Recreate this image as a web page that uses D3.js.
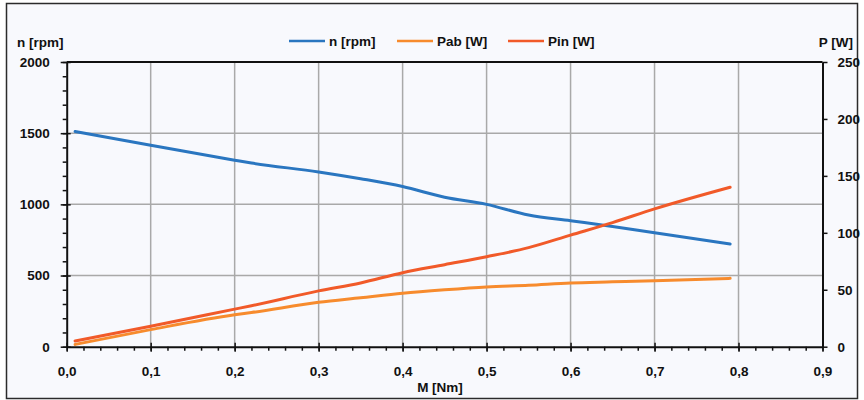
<!DOCTYPE html>
<html>
<head>
<meta charset="utf-8">
<script src="https://cdn.jsdelivr.net/npm/d3@7"></script>
<style>
  body { margin: 0; background: #fff; }
  text { font-family: "Liberation Sans", Arial, sans-serif; font-weight: bold; font-size: 13.5px; fill: #111; }
</style>
</head>
<body>
<svg id="chart" width="864" height="400"></svg>
<script>
// torque in Nm
const torque = [0.01, 0.1, 0.2, 0.22, 0.3, 0.35, 0.4, 0.45, 0.5, 0.55, 0.6, 0.65, 0.7, 0.79];
const speed = [1512, 1415, 1310, 1290, 1228, 1180, 1125, 1050, 1000, 925, 885, 845, 800, 722];
const powerOut = [2, 15, 28, 30, 39, 43, 47, 50, 52.5, 54, 56, 57, 58, 60];
const powerIn = [5, 18, 33, 36, 49, 56, 65, 72, 79, 87, 98, 109, 121, 140];

const xTicks = [0, 0.1, 0.2, 0.3, 0.4, 0.5, 0.6, 0.7, 0.8, 0.9];
const nTicks = [0, 500, 1000, 1500, 2000];
const pTicks = [0, 50, 100, 150, 200, 250];

const series = [
  { name: "n [rpm]", values: speed, axis: "n", color: "#2a76c0" },
  { name: "Pab [W]", values: powerOut, axis: "p", color: "#f78b2d" },
  { name: "Pin [W]", values: powerIn, axis: "p", color: "#f15a29" }
];

const svg = d3.select("#chart");
const plotL = 66.7, plotR = 822.5, plotT = 62, plotB = 346.7;

const x = d3.scaleLinear().domain([0, 0.9]).range([plotL, plotR]);
const yN = d3.scaleLinear().domain([0, 2000]).range([plotB, plotT]);
const yP = d3.scaleLinear().domain([0, 250]).range([plotB, plotT]);

// outer frame
svg.append("rect")
  .attr("x", 6.5).attr("y", 3.5).attr("width", 851).attr("height", 395)
  .attr("fill", "#f8f9fd").attr("stroke", "#2b2b2b").attr("stroke-width", 1.5);

// grid
const grid = svg.append("g").attr("stroke", "#a9a9a9").attr("stroke-width", 1.5);
grid.selectAll(".gx").data(xTicks.slice(1, -1)).join("line")
  .attr("x1", d => x(d)).attr("x2", d => x(d)).attr("y1", plotT).attr("y2", plotB);
grid.selectAll(".gy").data(nTicks.slice(1, -1)).join("line")
  .attr("x1", plotL).attr("x2", plotR).attr("y1", d => yN(d)).attr("y2", d => yN(d));

// top border of plot
svg.append("line").attr("x1", plotL).attr("x2", plotR).attr("y1", plotT).attr("y2", plotT)
  .attr("stroke", "#111").attr("stroke-width", 2);

// lines
const line = s => d3.line()
  .x((d, i) => x(torque[i]))
  .y(d => (s.axis === "n" ? yN(d) : yP(d)))
  .curve(d3.curveMonotoneX);

svg.selectAll(".series").data(series).join("path")
  .attr("fill", "none")
  .attr("stroke", d => d.color)
  .attr("stroke-width", 3)
  .attr("stroke-linecap", "round")
  .attr("d", d => line(d)(d.values));

// axes
function styleAxis(g) {
  g.select(".domain").attr("stroke", "#111").attr("stroke-width", 2);
  g.selectAll(".tick line").attr("stroke", "#111").attr("stroke-width", 1.5);
  g.selectAll("text").style("font-family", "Liberation Sans, Arial, sans-serif")
    .style("font-weight", "bold").style("font-size", "13.5px").attr("fill", "#111");
}

const fmt = d3.format(".1f");
// x minor ticks
svg.append("g").attr("transform", `translate(0,${plotB})`)
  .call(d3.axisBottom(x).tickValues(d3.range(0, 0.9001, 0.02)).tickSize(4).tickFormat(""))
  .call(g => { styleAxis(g); g.select(".domain").remove(); });
svg.append("g").attr("transform", `translate(0,${plotB})`)
  .call(d3.axisBottom(x).tickValues(xTicks).tickSizeInner(5).tickSizeOuter(0).tickPadding(15)
    .tickFormat(d => fmt(d).replace(".", ",")))
  .call(styleAxis)
  .call(g => g.selectAll(".tick line").attr("y1", -4));

// left minor ticks
svg.append("g").attr("transform", `translate(${plotL},0)`)
  .call(d3.axisLeft(yN).tickValues(d3.range(0, 2001, 100)).tickSize(4).tickFormat(""))
  .call(g => { styleAxis(g); g.select(".domain").remove(); });
svg.append("g").attr("transform", `translate(${plotL},0)`)
  .call(d3.axisLeft(yN).tickValues(nTicks).tickSizeInner(6).tickSizeOuter(0).tickPadding(11)
    .tickFormat(d3.format("d")))
  .call(styleAxis)
  .call(g => g.selectAll(".tick line").attr("x1", 4));

// right axis
svg.append("g").attr("transform", `translate(${plotR},0)`)
  .call(d3.axisRight(yP).tickValues(pTicks).tickSizeInner(5).tickSizeOuter(0).tickPadding(10))
  .call(styleAxis);

// axis titles
svg.append("text").attr("x", 17).attr("y", 47).text("n [rpm]");
svg.append("text").attr("x", 853).attr("y", 47).attr("text-anchor", "end").text("P [W]");
svg.append("text").attr("x", 440).attr("y", 392).attr("text-anchor", "middle").text("M [Nm]");

// legend
const legendX = [289, 397, 508];
const legend = svg.selectAll(".legend").data(series).join("g")
  .attr("transform", (d, i) => `translate(${legendX[i]},41)`);
legend.append("line").attr("x1", 0).attr("x2", 36).attr("stroke", d => d.color).attr("stroke-width", 2.5);
legend.append("text").attr("x", 40).attr("y", 5).text(d => d.name);
</script>
</body>
</html>
